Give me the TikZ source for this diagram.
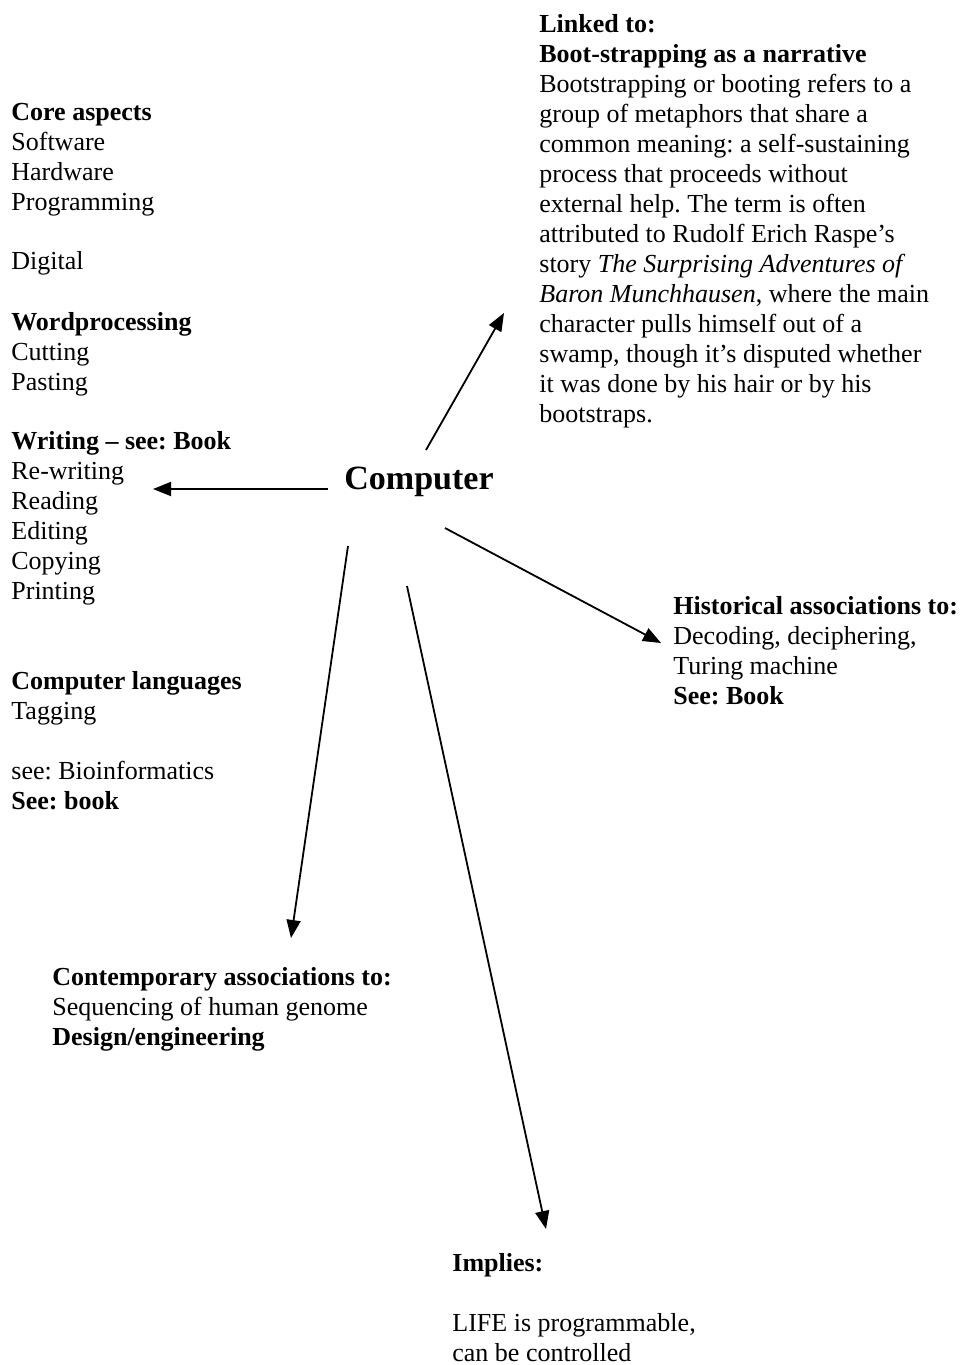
\documentclass[tikz,border=0pt]{standalone}
\usepackage{fontspec}
\setmainfont{Liberation Serif}
\usetikzlibrary{arrows.meta}
\frenchspacing

\begin{document}
\begin{tikzpicture}[x=0.5pt,y=-0.5pt,
  txt/.style={anchor=north west,align=left,inner sep=0pt,font=\fontsize{13}{15}\selectfont},
  link/.style={line width=0.9pt,-{Triangle[length=9pt,width=7pt]}}]
\useasboundingbox (0,0) rectangle (959,1365);
\node[anchor=base,inner sep=0pt,font=\fontsize{17}{20}\selectfont\bfseries] (computer) at (419,489) {Computer};
\node[txt] (linked) at (539,14) {\textbf{Linked to:}\\
\textbf{Boot-strapping as a narrative}\\
Bootstrapping or booting refers to a\\
group of metaphors that share a\\
common meaning: a self-sustaining\\
process that proceeds without\\
external help. The term is often\\
attributed to Rudolf Erich Raspe’s\\
story \textit{The Surprising Adventures of}\\
\textit{Baron Munchhausen}, where the main\\
character pulls himself out of a\\
swamp, though it's disputed whether\\
it was done by his hair or by his\\
bootstraps.};
\node[txt] (core) at (11,103) {\textbf{Core aspects}\\ Software\\ Hardware\\ Programming};
\node[txt] (digital) at (11,251) {Digital};
\node[txt] (wordproc) at (11,312) {\textbf{Wordprocessing}\\ Cutting\\ Pasting};
\node[txt] (writing) at (11,431) {\textbf{Writing – see: Book}\\ Re-writing\\ Reading\\ Editing\\ Copying\\ Printing};
\node[txt] (languages) at (11,671) {\textbf{Computer languages}\\ Tagging};
\node[txt] (seealso) at (11,761) {see: Bioinformatics\\ \textbf{See: book}};
\node[txt] (historical) at (673,596) {\textbf{Historical associations to:}\\ Decoding, deciphering,\\ Turing machine\\ \textbf{See: Book}};
\node[txt] (contemporary) at (52,967) {\textbf{Contemporary associations to:}\\ Sequencing of human genome\\ \textbf{Design/engineering}};
\node[txt] (implies) at (452,1253) {\textbf{Implies:}\\ \\ LIFE is programmable,\\ can be controlled};
\coordinate (linkedfrom) at (426,450);
\coordinate (linkedto) at (504,313);
\coordinate (writingfrom) at (328,489);
\coordinate (writingto) at (153,489);
\coordinate (historicalfrom) at (445,528);
\coordinate (historicalto) at (661,643);
\coordinate (contemporaryfrom) at (348,546);
\coordinate (contemporaryto) at (291,938);
\coordinate (impliesfrom) at (407,586);
\coordinate (impliesto) at (546,1229);
\draw[link] (linkedfrom) -- (linkedto);
\draw[link] (writingfrom) -- (writingto);
\draw[link] (historicalfrom) -- (historicalto);
\draw[link] (contemporaryfrom) -- (contemporaryto);
\draw[link] (impliesfrom) -- (impliesto);
\end{tikzpicture}
\end{document}
